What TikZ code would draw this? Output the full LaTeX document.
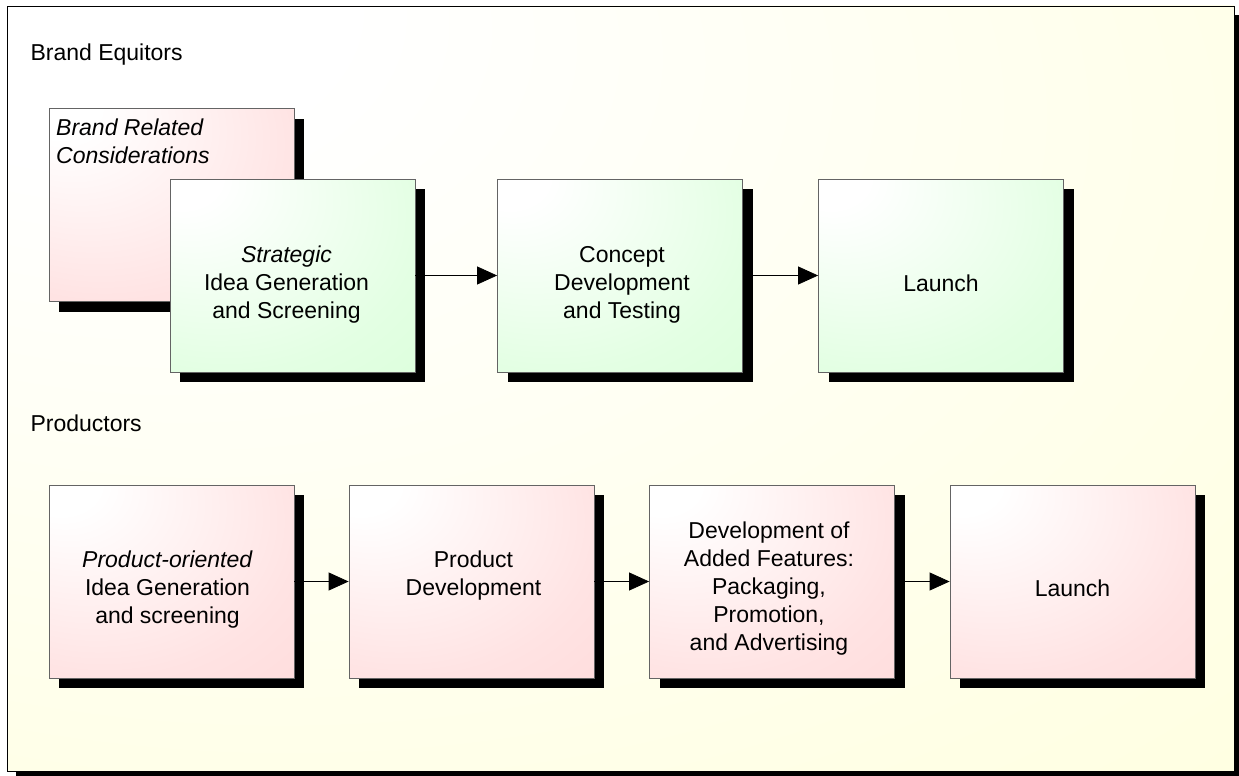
\documentclass[tikz,border=0pt]{standalone}
\usepackage{fontspec}
\setmainfont{Liberation Sans}
\usetikzlibrary{arrows.meta,shadows}

\definecolor{paleYellow}{RGB}{255,255,204}
\definecolor{palePink}{RGB}{255,204,204}
\definecolor{paleGreen}{RGB}{204,255,204}
\definecolor{boxBorder}{RGB}{100,100,100}

\pgfdeclareradialshading{pinkGlow}{\pgfpoint{-25bp}{28bp}}{%
  color(0bp)=(white); color(8bp)=(white); color(40bp)=(palePink!55!white);
  color(85bp)=(palePink)}
\pgfdeclareradialshading{greenGlow}{\pgfpoint{-25bp}{28bp}}{%
  color(0bp)=(white); color(8bp)=(white); color(40bp)=(paleGreen!55!white);
  color(85bp)=(paleGreen)}
\pgfdeclareradialshading{yellowGlow}{\pgfpoint{-24bp}{28bp}}{%
  color(0bp)=(white); color(10bp)=(white); color(45bp)=(paleYellow!50!white);
  color(90bp)=(paleYellow)}

\newcommand{\boxfont}{\fontsize{23}{28}\selectfont}

\begin{document}
\begin{tikzpicture}
[x=1pt,y=-1pt,
  boxDecorate/.style={shape=rectangle,minimum width=245pt,minimum height=193pt,
    inner sep=0pt,draw=boxBorder,line width=0.8pt,shade,
    drop shadow={shadow xshift=10pt,shadow yshift=-10pt,fill=black,opacity=1}},
  pinkDecorate/.style={boxDecorate,shading=pinkGlow},
  greenDecorate/.style={boxDecorate,shading=greenGlow},
  textDecorate/.style={align=center,inner sep=0pt,font=\boxfont},
  lineDecorate/.style={-{Triangle[length=20pt,width=18pt]},line width=0.8pt}]
\useasboundingbox (0,0) rectangle (1239,776);
%% frame
\fill[black] (16,15) rectangle (1239,776);
\path[shade,shading=yellowGlow,draw=black,line width=0.8pt] (7,6) rectangle (1234,771);
%% headings
\node (brandHead) at (27,55) [anchor=west,font=\boxfont] {Brand Equitors};
\node (productHead) at (27,423) [anchor=west,font=\boxfont] {Productors};
%% boxes
\foreach \nodename/\x/\y in {
  brand/171.5/205, productIdea/171.5/581.5, productDev/471.5/581.5,
  features/772/581.5, launchProduct/1072.5/581.5}
{
  \node (\nodename) at (\x,\y) [pinkDecorate] {};
}
\foreach \nodename/\x/\y in {
  strategic/292.5/275.5, concept/620/275.5, launchBrand/941/275.5}
{
  \node (\nodename) at (\x,\y) [greenDecorate] {};
}
%% box texts
\node (brandText) at (56,119) [textDecorate,anchor=north west,align=left]
  {\textit{Brand Related}\\\textit{Considerations}};
\foreach \nodename/\dx/\dy/\nodetext in {
  strategic/-6pt/9pt/{\textit{Strategic}\\Idea Generation\\and Screening},
  concept/2pt/9pt/{Concept\\Development\\and Testing},
  launchBrand/0pt/8pt/{Launch},
  productIdea/-4pt/8pt/{\textit{Product-oriented}\\Idea Generation\\and screening},
  productDev/2pt/-6pt/{Product\\Development},
  features/-3pt/7pt/{Development of\\Added Features:\\Packaging,\\Promotion,\\and Advertising},
  launchProduct/0pt/7pt/{Launch}}
{
  \node (\nodename Text) at ([xshift=\dx,yshift=-\dy]\nodename.center) [textDecorate] {\nodetext};
}
%% arrows
\path
\foreach \startnode/\endnode in {
  strategic/concept, concept/launchBrand, productIdea/productDev,
  productDev/features, features/launchProduct}
{
  (\startnode) edge[lineDecorate] (\endnode)
};
\end{tikzpicture}
\end{document}
